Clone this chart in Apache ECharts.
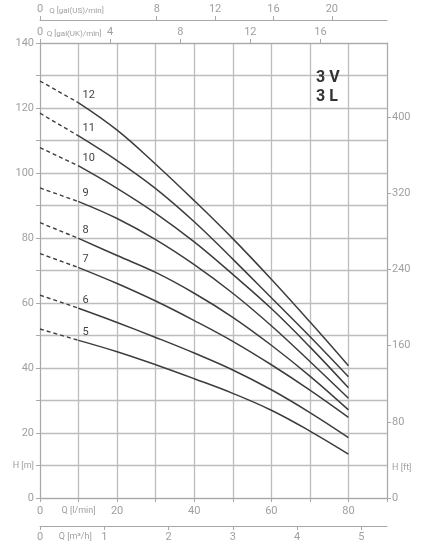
<!DOCTYPE html>
<html>
<head>
<meta charset="utf-8">
<script src="https://cdn.jsdelivr.net/npm/echarts@6/dist/echarts.min.js"></script>
<style>
    html, body { margin: 0; padding: 0; background: #fff; }
    #chart { width: 435px; height: 554px; }
</style>
</head>
<body>
<div id="chart"></div>
<script>
// flow points in l/min, the first segment (0-10) is drawn dashed
var flowLpm = [0, 10, 20, 30, 40, 50, 60, 70, 80];
var stageNames = ['12', '11', '10', '9', '8', '7', '6', '5'];

// head in m for each stage count
var head12 = [128.3, 121.6, 113.2, 102.7, 91.5, 79.8, 67.3, 54.2, 40.7];
var head11 = [118.4, 111.4, 103.8, 95.2, 85.0, 73.5, 61.6, 49.7, 37.3];
var head10 = [107.8, 102.2, 95.3, 87.6, 78.8, 68.8, 58.3, 46.5, 33.9];
var head9 = [95.4, 91.2, 86.0, 79.5, 71.8, 63.0, 53.0, 42.0, 30.7];
var head8 = [84.7, 79.9, 74.6, 69.4, 63.0, 55.6, 47.0, 37.5, 27.1];
var head7 = [75.2, 70.9, 66.0, 60.6, 54.6, 48.2, 41.0, 33.2, 24.8];
var head6 = [62.4, 58.4, 54.0, 49.4, 44.6, 39.4, 33.3, 26.3, 18.6];
var head5 = [52.0, 48.5, 45.0, 41.0, 36.7, 32.2, 27.0, 20.6, 13.5];

// tick labels
var headMTicks = [0, 20, 40, 60, 80, 100, 120, 140];
var headFtTicks = [0, 80, 160, 240, 320, 400];
var lpmTicks = [0, 20, 40, 60, 80];
var m3hTicks = [0, 1, 2, 3, 4, 5];
var ukTicks = [0, 4, 8, 12, 16];
var usTicks = [0, 8, 12, 16, 20];

var heads = [head12, head11, head10, head9, head8, head7, head6, head5];

var font = "'Liberation Sans Narrow', Roboto, sans-serif";
var gray = '#a8a8a8';
var labelGray = '#a0a0a0';
var curveColor = '#3d3d3d';

var myChart = echarts.init(document.getElementById('chart'));

var series = [];
heads.forEach(function (h, k) {
    series.push({
        type: 'line',
        xAxisIndex: 0,
        yAxisIndex: 0,
        symbol: 'none',
        silent: true,
        lineStyle: { color: curveColor, width: 1.4, type: [4, 3] },
        data: [[flowLpm[0], h[0]], [flowLpm[1], h[1]]]
    });
    var solid = [];
    for (var i = 1; i < flowLpm.length; i++) {
        solid.push([flowLpm[i], h[i]]);
    }
    solid[0] = {
        value: solid[0],
        symbol: 'circle',
        symbolSize: 1,
        label: {
            show: true,
            formatter: stageNames[k],
            position: 'top',
            align: 'left',
            offset: [4, 3],
            color: '#444',
            fontSize: 11,
            fontFamily: font
        }
    };
    series.push({
        type: 'line',
        xAxisIndex: 0,
        yAxisIndex: 0,
        symbol: 'none',
        showSymbol: true,
        smooth: 0.4,
        silent: true,
        itemStyle: { color: curveColor },
        lineStyle: { color: curveColor, width: 1.5 },
        data: solid
    });
});

function axisBase() {
    return {
        type: 'value',
        axisLine: { show: true, onZero: false, lineStyle: { color: gray, width: 1 } },
        axisTick: { show: true, length: 4, lineStyle: { color: gray } },
        splitLine: { show: false },
        axisLabel: { color: labelGray, fontSize: 11, fontFamily: font, margin: 5 }
    };
}

var qStyle = {
    q: { fontSize: 9, color: labelGray, fontFamily: font },
    g: { fontSize: 8, color: labelGray, fontFamily: font }
};

var xLpm = axisBase();
xLpm.position = 'bottom';
xLpm.min = 0;
xLpm.max = 90;
xLpm.interval = 10;
xLpm.splitLine = { show: true, lineStyle: { color: '#bdbdbd', width: 1.3 } };
xLpm.axisLabel.margin = 8;
xLpm.axisLabel.formatter = function (v) {
    if (v === 10) return '{q|Q [l/min]}';
    return lpmTicks.indexOf(v) >= 0 ? v : '';
};
xLpm.axisLabel.rich = qStyle;

var xM3h = axisBase();
xM3h.position = 'bottom';
xM3h.offset = 28;
xM3h.min = 0;
xM3h.max = 90 / 16.667;
xM3h.axisTick.customValues = m3hTicks;
xM3h.axisLabel.customValues = [0, 0.55, 1, 2, 3, 4, 5];
xM3h.axisLabel.margin = 6;
xM3h.axisLabel.formatter = function (v) {
    if (v === 0.55) return '{q|Q [m³/h]}';
    return v;
};
xM3h.axisLabel.rich = qStyle;

var xUk = axisBase();
xUk.position = 'top';
xUk.min = 0;
xUk.max = 90 / 4.546;
xUk.axisTick.customValues = ukTicks;
xUk.axisLabel.customValues = [0, 1.95, 4, 8, 12, 16];
xUk.axisLabel.formatter = function (v) {
    if (v === 1.95) return '{g|Q [gal(UK)/min]}';
    return v;
};
xUk.axisLabel.rich = qStyle;

var xUs = axisBase();
xUs.position = 'top';
xUs.offset = 23;
xUs.min = 0;
xUs.max = 90 / 3.785;
xUs.axisTick.customValues = usTicks;
xUs.axisLabel.customValues = [0, 2.5, 8, 12, 16, 20];
xUs.axisLabel.formatter = function (v) {
    if (v === 2.5) return '{g|Q [gal(US)/min]}';
    return v;
};
xUs.axisLabel.rich = qStyle;

var yM = axisBase();
yM.position = 'left';
yM.min = 0;
yM.max = 140;
yM.interval = 10;
yM.splitLine = { show: true, lineStyle: { color: '#bdbdbd', width: 1.3 } };
yM.axisLabel.margin = 6;
yM.axisLabel.formatter = function (v) {
    if (v === 10) return '{q|H [m]}';
    return headMTicks.indexOf(v) >= 0 ? v : '';
};
yM.axisLabel.rich = qStyle;

var yFt = axisBase();
yFt.position = 'right';
yFt.min = 0;
yFt.max = 478;
yFt.axisTick.customValues = headFtTicks;
yFt.axisLabel.customValues = [0, 32, 80, 160, 240, 320, 400];
yFt.axisLabel.formatter = function (v) {
    if (v === 32) return '{q|H [ft]}';
    return v;
};
yFt.axisLabel.rich = qStyle;

var option = {
    backgroundColor: '#fff',
    animation: false,
    title: {
        text: '3 V\n3 L',
        left: 311,
        top: 63,
        textStyle: { color: '#333', fontSize: 16, fontWeight: 'bold', lineHeight: 19, fontFamily: font }
    },
    grid: {
        left: 40,
        right: 48,
        top: 43,
        bottom: 56,
        containLabel: false,
        outerBoundsMode: 'none'
    },
    xAxis: [xLpm, xM3h, xUk, xUs],
    yAxis: [yM, yFt],
    series: series
};

myChart.setOption(option);
</script>
</body>
</html>
